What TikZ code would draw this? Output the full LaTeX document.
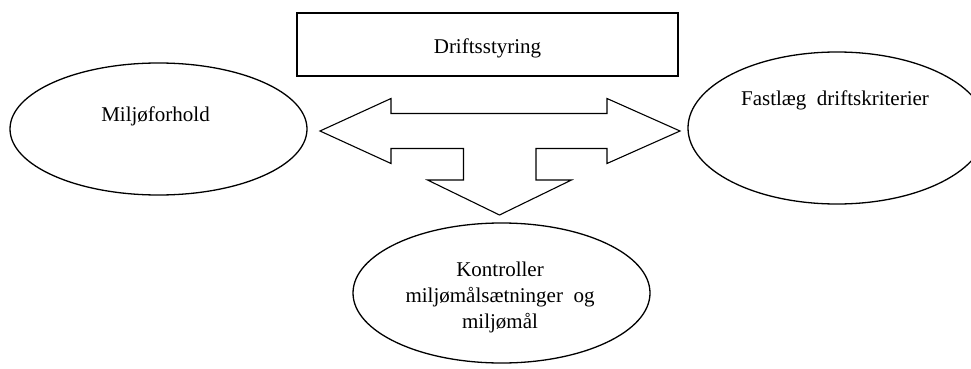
\documentclass[tikz,border=0pt]{standalone}
\usepackage{fontspec}
\setmainfont{Liberation Serif}
\usetikzlibrary{shapes.geometric}
\begin{document}
\begin{tikzpicture}[x=1pt,y=-1pt,
  lbl/.style={font=\fontsize{21}{26}\selectfont, inner sep=0pt, align=center},
  oval/.style={ellipse, draw, line width=1.3pt, inner sep=0pt},
  box/.style={draw, line width=1.3pt, inner sep=0pt},
  bigarrow/.style={draw, line width=1.1pt, line join=miter, fill=white}]
\clip (0,0) rectangle (971,369);
\useasboundingbox (0,0) rectangle (971,369);

% top box
\node[box, minimum width=381, minimum height=63] (styring) at (487.5,44.5) {};
\node[lbl, anchor=base] (styringtxt) at (487.5,53) {Driftsstyring};

% three ellipses
\node[oval, minimum width=297, minimum height=132] (miljo) at (158.5,129) {};
\node[lbl, anchor=base] (miljotxt) at (155.5,121.5) {Miljøforhold};

\node[oval, minimum width=298, minimum height=152] (kriterier) at (837,128) {};
\node[lbl, anchor=base] (kriterietxt) at (835,105) {Fastlæg\ \ driftskriterier};

\node[oval, minimum width=297, minimum height=140] (kontrol) at (501.5,293) {};
% base anchor of a multi-line node sits on its last line
\node[lbl, anchor=base] (kontroltxt) at (500,328) {Kontroller\\miljømålsætninger\ \ og\\miljømål};

% three-way block arrow between the ellipses
\draw[bigarrow] (320,131) -- (391,98.5) -- (391,113.5) -- (607,113.5) -- (607,98.5)
  -- (680,131) -- (607,163.5) -- (607,148.5) -- (536,148.5) -- (536,180)
  -- (571.5,180) -- (499.5,215) -- (427.5,180) -- (463.5,180) -- (463.5,148.5)
  -- (391,148.5) -- (391,163.5) -- cycle;
\end{tikzpicture}
\end{document}
